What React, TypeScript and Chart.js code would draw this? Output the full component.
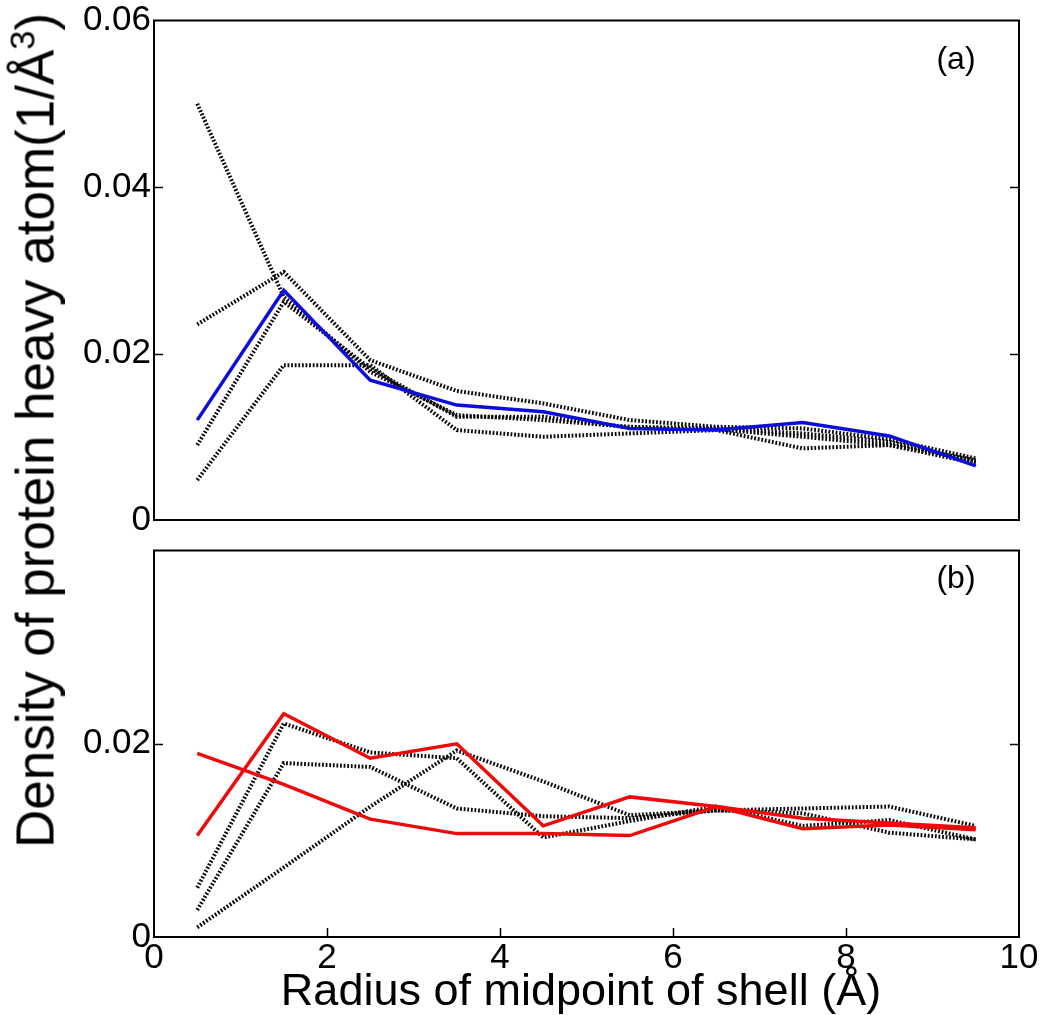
import React, { useEffect, useRef } from "react";
import { Chart, registerables } from "chart.js";

Chart.register(...registerables);

// Shell midpoints (Å)
const radius = [0.5, 1.5, 2.5, 3.5, 4.5, 5.5, 6.5, 7.5, 8.5, 9.5];
const xTickValues = [0, 2, 4, 6, 8, 10];
const topYTickValues = [0, 0.02, 0.04, 0.06];
const bottomYTickValues = [0, 0.02];

// Panel (a)
const topBlue = [0.012, 0.0276, 0.0168, 0.0138, 0.013, 0.011, 0.0108, 0.0117, 0.0101, 0.0065];
const topDot1 = [0.05, 0.0268, 0.0178, 0.0126, 0.012, 0.0112, 0.011, 0.0104, 0.0094, 0.007];
const topDot2 = [0.0235, 0.0298, 0.0192, 0.0155, 0.014, 0.012, 0.0112, 0.011, 0.0097, 0.0074];
const topDot3 = [0.009, 0.0262, 0.0182, 0.0124, 0.0124, 0.0111, 0.0109, 0.01, 0.009, 0.0068];
const topDot4 = [0.0048, 0.0186, 0.0186, 0.0108, 0.01, 0.0104, 0.0108, 0.0086, 0.009, 0.0072];

// Panel (b)
const botRed1 = [0.0105, 0.0231, 0.0185, 0.02, 0.0115, 0.0145, 0.0135, 0.0123, 0.0118, 0.0113];
const botRed2 = [0.019, 0.0158, 0.0122, 0.0107, 0.0107, 0.0105, 0.0135, 0.0112, 0.0116, 0.0111];
const botDot1 = [0.0051, 0.0221, 0.0191, 0.0185, 0.0103, 0.012, 0.0135, 0.0115, 0.0121, 0.0101];
const botDot2 = [0.0028, 0.018, 0.0176, 0.0133, 0.0125, 0.0123, 0.0131, 0.0133, 0.0135, 0.0115];
const botDot3 = [0.001, 0.0072, 0.0135, 0.0193, 0.0161, 0.0126, 0.0131, 0.0128, 0.0108, 0.0101];

const FONT = "'Liberation Sans', Arial, Helvetica, sans-serif";
const BLUE = "#0c0cdc";
const RED = "#ee0a0a";

const toPoints = (ys: number[]) => radius.map((x, i) => ({ x, y: ys[i] }));

const solid = (ys: number[], color: string) => ({
  data: toPoints(ys),
  borderColor: color,
  borderWidth: 3.5,
  pointRadius: 0,
  tension: 0,
  fill: false,
  order: 0,
});

const dotted = (ys: number[]) => ({
  data: toPoints(ys),
  borderColor: "#0a0a0a",
  borderWidth: 4,
  borderDash: [1.8, 1.8],
  pointRadius: 0,
  tension: 0,
  fill: false,
  order: 1,
});

const framePlugin = {
  id: "frame",
  afterDatasetsDraw(chart: any, _args: any, opts: any) {
    const { ctx, chartArea } = chart;
    const { left, right, top, bottom } = chartArea;
    ctx.save();
    ctx.strokeStyle = "#000";
    ctx.lineWidth = 2;
    ctx.strokeRect(left, top, right - left, bottom - top);
    ctx.lineWidth = 1.5;
    const len = 9;
    const ys = chart.scales.y;
    for (const v of opts.yTicks || []) {
      const py = Math.round(ys.getPixelForValue(v)) + 0.5;
      ctx.beginPath();
      ctx.moveTo(left, py);
      ctx.lineTo(left + len, py);
      ctx.moveTo(right, py);
      ctx.lineTo(right - len, py);
      ctx.stroke();
    }
    const xs = chart.scales.x;
    for (const v of opts.xTicks || []) {
      const px = Math.round(xs.getPixelForValue(v)) + 0.5;
      ctx.beginPath();
      ctx.moveTo(px, bottom);
      ctx.lineTo(px, bottom - len);
      ctx.stroke();
    }
    ctx.restore();
  },
};

const fmt = (v: number) => (v === 0 ? "0" : v.toFixed(2));

function makeTop(canvas: HTMLCanvasElement) {
  return new Chart(canvas, {
    type: "line",
    data: {
      datasets: [solid(topBlue, BLUE), dotted(topDot1), dotted(topDot2), dotted(topDot3), dotted(topDot4)] as any,
    },
    options: {
      animation: false,
      responsive: false,
      maintainAspectRatio: false,
      layout: { padding: { left: 0, right: 31, top: 20, bottom: 40 } },
      plugins: {
        legend: { display: false },
        tooltip: { enabled: false },
        frame: { yTicks: topYTickValues.slice(1, -1), xTicks: [] },
      } as any,
      scales: {
        x: { type: "linear", min: 0, max: 10, display: false },
        y: {
          type: "linear",
          min: 0,
          max: 0.06,
          afterFit: (s: any) => {
            s.width = 154;
          },
          afterBuildTicks: (s: any) => {
            s.ticks = topYTickValues.map((value) => ({ value }));
          },
          grid: { display: false, drawTicks: false },
          border: { display: false },
          ticks: {
            padding: 3,
            color: "#000",
            font: { family: FONT, size: 35, lineHeight: 1 },
            callback: (v: any) => fmt(Number(v)),
          },
        },
      } as any,
    },
    plugins: [framePlugin],
  });
}

function makeBottom(canvas: HTMLCanvasElement) {
  return new Chart(canvas, {
    type: "line",
    data: {
      datasets: [solid(botRed1, RED), solid(botRed2, RED), dotted(botDot1), dotted(botDot2), dotted(botDot3)] as any,
    },
    options: {
      animation: false,
      responsive: false,
      maintainAspectRatio: false,
      layout: { padding: { left: 0, right: 31, top: 10, bottom: 0 } },
      plugins: {
        legend: { display: false },
        tooltip: { enabled: false },
        frame: { yTicks: bottomYTickValues.slice(1), xTicks: xTickValues.slice(1, -1) },
      } as any,
      scales: {
        x: {
          type: "linear",
          min: 0,
          max: 10,
          afterFit: (s: any) => {
            s.height = 78;
          },
          afterBuildTicks: (s: any) => {
            s.ticks = xTickValues.map((value) => ({ value }));
          },
          grid: { display: false, drawTicks: false },
          border: { display: false },
          ticks: {
            padding: 4,
            color: "#000",
            maxRotation: 0,
            autoSkip: false,
            font: { family: FONT, size: 35, lineHeight: 1 },
            callback: (v: any) => String(v),
          },
        },
        y: {
          type: "linear",
          min: 0,
          max: 0.04,
          afterFit: (s: any) => {
            s.width = 154;
          },
          afterBuildTicks: (s: any) => {
            s.ticks = bottomYTickValues.map((value) => ({ value }));
          },
          grid: { display: false, drawTicks: false },
          border: { display: false },
          ticks: {
            padding: 3,
            color: "#000",
            font: { family: FONT, size: 35, lineHeight: 1 },
            callback: (v: any) => fmt(Number(v)),
          },
        },
      } as any,
    },
    plugins: [framePlugin],
  });
}

export default function App() {
  const topRef = useRef<HTMLCanvasElement>(null);
  const botRef = useRef<HTMLCanvasElement>(null);

  useEffect(() => {
    const a = makeTop(topRef.current!);
    const b = makeBottom(botRef.current!);
    return () => {
      a.destroy();
      b.destroy();
    };
  }, []);

  const text: React.CSSProperties = {
    position: "absolute",
    fontFamily: FONT,
    color: "#000",
    lineHeight: 1,
    whiteSpace: "nowrap",
  };

  return (
    <div style={{ position: "absolute", left: 0, top: 0, width: 1050, height: 1015, background: "#fff", overflow: "hidden" }}>
      <canvas ref={botRef} width={1050} height={485} style={{ position: "absolute", left: 0, top: 530, display: "block" }} />
      <canvas ref={topRef} width={1050} height={560} style={{ position: "absolute", left: 0, top: 0, display: "block" }} />
      <div style={{ ...text, left: 906, top: 42, width: 100, textAlign: "center", fontSize: 32 }}>(a)</div>
      <div style={{ ...text, left: 906, top: 561, width: 100, textAlign: "center", fontSize: 32 }}>(b)</div>
      <div style={{ ...text, left: 181, top: 967, width: 800, textAlign: "center", fontSize: 45 }}>
        Radius of midpoint of shell (Å)
      </div>
      <div
        style={{
          ...text,
          left: 35 - 500,
          top: 430 - 26,
          width: 1000,
          height: 53,
          textAlign: "center",
          fontSize: 53,
          transform: "rotate(-90deg)",
          transformOrigin: "50% 50%",
        }}
      >
        Density of protein heavy atom(1/Å<sup style={{ fontSize: "0.65em", verticalAlign: "0.55em", lineHeight: 0 }}>3</sup>)
      </div>
    </div>
  );
}
